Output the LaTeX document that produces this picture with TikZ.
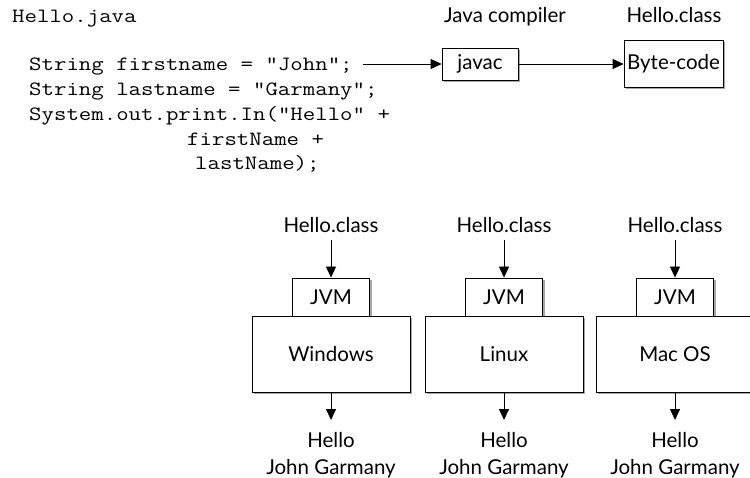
\documentclass[tikz,border=0pt]{standalone}
\usepackage{fontspec}
\setmainfont{Lato}
\newfontfamily\codefont[FakeStretch=1.19]{Latin Modern Mono}
\usetikzlibrary{arrows.meta,shadows}
\begin{document}
\begin{tikzpicture}[x=1pt,y=-1pt,
  code/.style={font=\codefont\fontsize{20.3}{24}\selectfont, inner sep=0pt, anchor=base west},
  lbl/.style={font=\fontsize{20.5}{24}\selectfont, inner sep=0pt, anchor=base},
  box/.style={draw, line width=0.8pt, fill=white, inner sep=0pt,
    font=\fontsize{20.5}{24}\selectfont,
    drop shadow={shadow xshift=2pt, shadow yshift=-2pt, fill=black!35, opacity=1}},
  arr/.style={line width=0.8pt, -{Triangle[length=11pt,width=10pt]}}]
\useasboundingbox (0,0) rectangle (750,478);
% code
\node[code] (hj) at (12,23) {Hello.java};
\node[code] (l1) at (29,71) {String firstname = "John";};
\node[code] (l2) at (29,96) {String lastname = "Garmany";};
\node[code] (l3) at (29,121) {System.out.print.In("Hello" +};
\node[code] (l4) at (187,146) {firstName +};
\node[code] (l5) at (195,170) {lastName);};
% compiler
\node[lbl] (jc) at (505,22.5) {Java compiler};
\node[lbl] (hc0) at (674,22.5) {Hello.class};
\node[box, minimum width=76pt, minimum height=32pt] (javac) at (480,64) {javac};
\node[box, minimum width=99pt, minimum height=47pt] (bc) at (673.5,64) {Byte-code};
\coordinate (s1) at (363,64);
\draw[arr] (s1) -- (javac.west);
\draw[arr] (javac.east) -- (bc.west);
% platforms
\foreach \n/\x/\os in {w/331/Windows, l/504/Linux, m/675/Mac OS}{
  \node[lbl] (hc\n) at (\x,232.5) {Hello.class};
  \node[box, minimum width=77pt, minimum height=38pt] (jvm\n) at (\x,297) {JVM};
  \node[box, minimum width=158pt, minimum height=76pt] (os\n) at (\x,354) {\os};
  \node[lbl] (h\n) at (\x,447) {Hello};
  \node[lbl] (jg\n) at (\x,474) {John Garmany};
  \draw[arr] (\x,240) -- (jvm\n.north);
  \draw[arr] (os\n.south) -- (\x,420);
}
\end{tikzpicture}
\end{document}
